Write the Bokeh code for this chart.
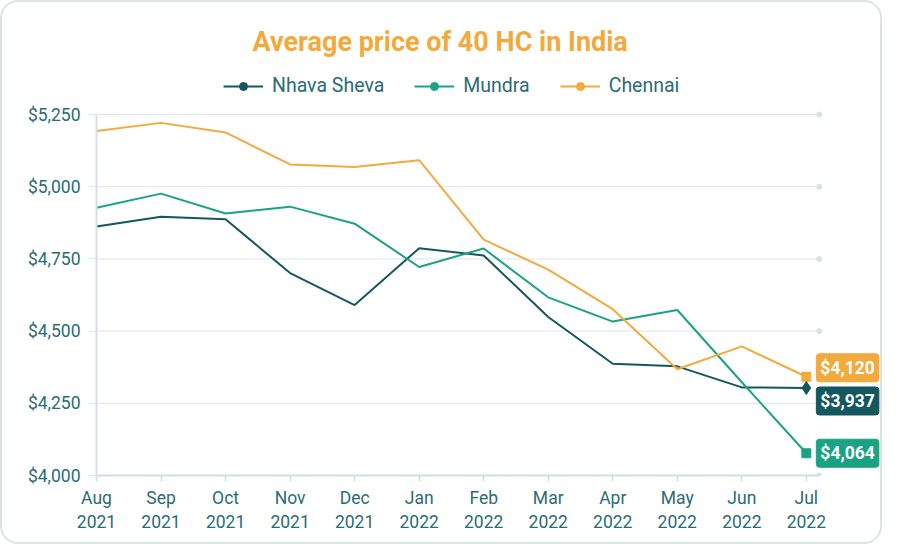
from bokeh.plotting import figure
from bokeh.models import (FixedTicker, NumeralTickFormatter, Legend, LegendItem, Label, Range1d)
from bokeh.embed import file_html
from bokeh.resources import INLINE

months = ["Aug\n2021", "Sep\n2021", "Oct\n2021", "Nov\n2021", "Dec\n2021", "Jan\n2022",
          "Feb\n2022", "Mar\n2022", "Apr\n2022", "May\n2022", "Jun\n2022", "Jul\n2022"]
nhava_sheva = [4862, 4896, 4887, 4701, 4590, 4787, 4762, 4549, 4387, 4378, 4305, 4303]
mundra = [4927, 4976, 4907, 4931, 4872, 4722, 4786, 4617, 4533, 4573, 4323, 4077]
chennai = [5193, 5221, 5188, 5077, 5068, 5092, 4817, 4713, 4576, 4368, 4447, 4342]
end_labels = {"Chennai": "$4,120", "Nhava Sheva": "$3,937", "Mundra": "$4,064"}
y_ticks = [4000, 4250, 4500, 4750, 5000, 5250]

C_NS = "#14575e"
C_MU = "#1aa383"
C_CH = "#f2aa3c"
TXT = "#2a6c74"
GRID = "#e3eaee"

# layout constants
X_AXIS_END = 11.2
X_VIEW_END = 12.18
Y_VIEW_END = 5437

xs = list(range(len(months)))

p = figure(width=882, height=544, output_backend="svg", toolbar_location=None,
           x_range=Range1d(0, X_VIEW_END), y_range=Range1d(y_ticks[0], Y_VIEW_END),
           min_border_left=94, min_border_right=2, min_border_bottom=71, min_border_top=58)
p.styles = {"border": "2px solid #dbe3e6", "border-radius": "18px", "overflow": "hidden"}

p.title.text = "Average price of 40 HC in India"
p.title.align = "left"
p.title.offset = 156
p.title.text_color = C_CH
p.title.text_font = "Roboto"
p.title.text_font_size = "27px"
p.title.text_font_style = "bold"
p.title.standoff = 6

p.outline_line_color = None
p.xgrid.grid_line_color = None
p.ygrid.grid_line_color = None

# gridlines limited to the axis extent, with end dots
p.segment(x0=[0] * len(y_ticks), x1=[X_AXIS_END] * len(y_ticks), y0=y_ticks, y1=y_ticks,
          line_color=GRID, line_width=1.3)
p.scatter([X_AXIS_END] * len(y_ticks), y_ticks, size=5, color="#d6e2e8")

p.yaxis.ticker = FixedTicker(ticks=y_ticks)
p.yaxis.formatter = NumeralTickFormatter(format="$0,0")
p.yaxis.bounds = (y_ticks[0], y_ticks[-1])
p.xaxis.ticker = FixedTicker(ticks=xs)
p.xaxis.bounds = (0, X_AXIS_END)
p.xaxis.major_label_overrides = {i: m for i, m in zip(xs, months)}
for ax in (p.xaxis[0], p.yaxis[0]):
    ax.axis_line_color = "#cfdde4"
    ax.axis_line_width = 2
    ax.major_tick_line_color = "#cfdde4"
    ax.major_tick_line_width = 1.5
    ax.minor_tick_line_color = None
    ax.major_label_text_color = TXT
    ax.major_label_text_font = "Roboto"
    ax.major_label_text_font_size = "17.5px"
    ax.major_tick_in = 0
p.yaxis.major_tick_out = 8
p.yaxis.major_label_standoff = 8
p.yaxis.axis_line_color = "#d3e0e7"
p.xaxis.major_tick_out = 6
p.xaxis.major_label_standoff = 6
p.yaxis.major_tick_line_color = GRID

r_ns = p.line(xs, nhava_sheva, line_color=C_NS, line_width=2)
r_mu = p.line(xs, mundra, line_color=C_MU, line_width=2)
r_ch = p.line(xs, chennai, line_color=C_CH, line_width=2)

p.scatter([xs[-1]], [chennai[-1]], marker="square", size=9, color=C_CH)
p.scatter([xs[-1]], [nhava_sheva[-1]], marker="diamond", size=13, color=C_NS)
p.scatter([xs[-1]], [mundra[-1]], marker="square", size=9, color=C_MU)

d_ns = p.scatter([xs[-1]], [nhava_sheva[-1]], size=7, color=C_NS, visible=False)
d_mu = p.scatter([xs[-1]], [mundra[-1]], size=7, color=C_MU, visible=False)
d_ch = p.scatter([xs[-1]], [chennai[-1]], size=7, color=C_CH, visible=False)

legend = Legend(items=[
    LegendItem(label="Nhava Sheva", renderers=[r_ns, d_ns]),
    LegendItem(label="Mundra", renderers=[r_mu, d_mu]),
    LegendItem(label="Chennai", renderers=[r_ch, d_ch]),
], orientation="horizontal", location=(127, 378))
legend.label_text_font = "Roboto"
legend.label_text_font_size = "19.5px"
legend.label_text_color = TXT
legend.border_line_color = None
legend.background_fill_alpha = 0
legend.glyph_width = 40
legend.spacing = 30
legend.margin = 0
legend.padding = 4
legend.label_standoff = 9
p.add_layout(legend)

for name, vals, col, dy in [("Chennai", chennai, C_CH, 9),
                            ("Nhava Sheva", nhava_sheva, C_NS, -13),
                            ("Mundra", mundra, C_MU, 0)]:
    lab = Label(x=xs[-1], y=vals[-1], x_offset=10, y_offset=dy, text=end_labels[name],
                text_color="white", text_font="Roboto", text_font_style="bold",
                text_font_size="17.5px", text_align="left", text_baseline="middle",
                background_fill_color=col, border_line_color=col,
                padding=4, border_radius=3)
    p.add_layout(lab)

open("out.html", "w").write(file_html(p, INLINE))
